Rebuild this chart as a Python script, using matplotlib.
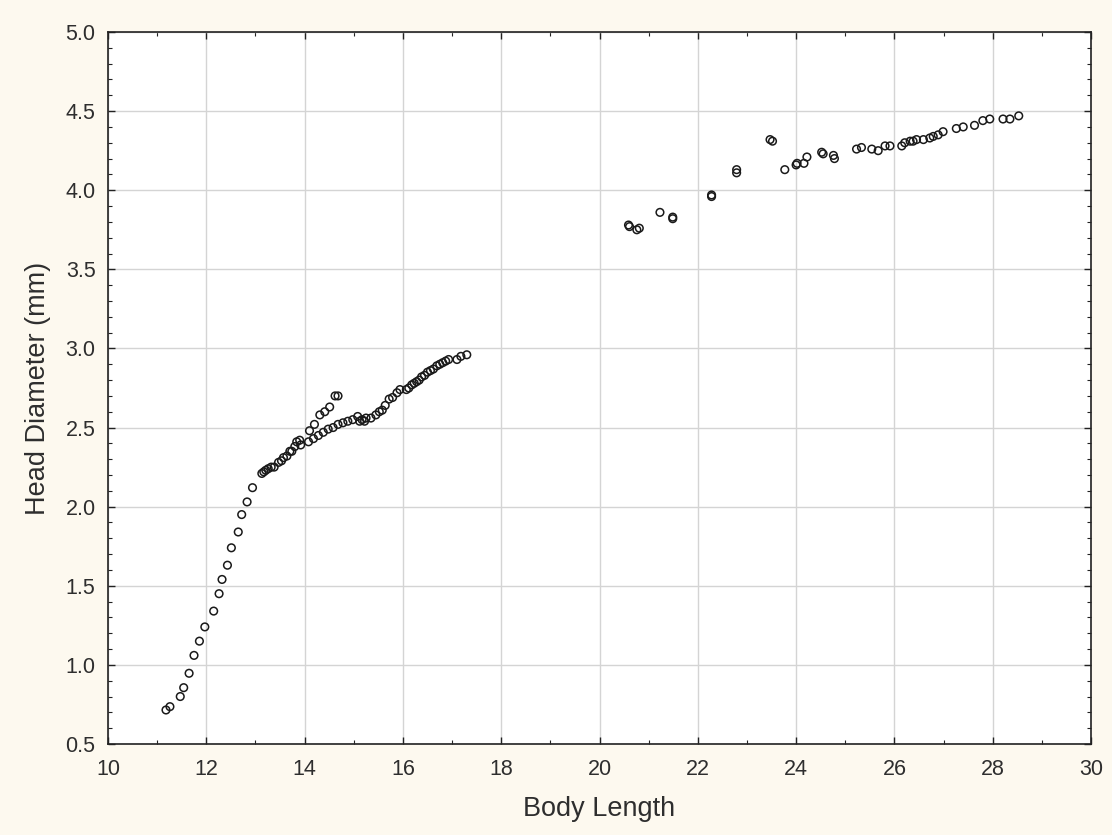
import numpy as np
import matplotlib
matplotlib.use('Agg')
import matplotlib.pyplot as plt
from matplotlib.ticker import MultipleLocator

# Body length vs head diameter
small_len = [11.18, 11.26, 11.47, 11.54, 11.65, 11.75, 11.86, 11.97, 12.15, 12.26,
             12.32, 12.43, 12.51, 12.65, 12.72, 12.83, 12.94,
             13.13, 13.17, 13.21, 13.26, 13.32, 13.38, 13.47, 13.53, 13.57, 13.64,
             13.70, 13.74, 13.80, 13.84, 13.90, 13.92,
             14.10, 14.20, 14.31, 14.41, 14.51, 14.62, 14.68,
             14.08, 14.18, 14.28, 14.38, 14.48, 14.58, 14.68, 14.78, 14.88, 14.98, 15.08,
             15.12, 15.17, 15.22, 15.25, 15.35, 15.45, 15.52, 15.58, 15.64, 15.72,
             15.79, 15.88, 15.94, 16.07, 16.12, 16.18, 16.23, 16.28, 16.33, 16.38,
             16.44, 16.50, 16.56, 16.62, 16.69, 16.75, 16.81, 16.87, 16.93, 17.10,
             17.18, 17.30]
small_head = [0.715, 0.736, 0.80, 0.856, 0.947, 1.06, 1.15, 1.24, 1.34, 1.45,
              1.54, 1.63, 1.74, 1.84, 1.95, 2.03, 2.12,
              2.21, 2.22, 2.23, 2.24, 2.25, 2.25, 2.28, 2.29, 2.31, 2.32,
              2.35, 2.35, 2.38, 2.41, 2.42, 2.39,
              2.48, 2.52, 2.58, 2.60, 2.63, 2.70, 2.70,
              2.41, 2.43, 2.45, 2.47, 2.49, 2.50, 2.52, 2.53, 2.54, 2.55, 2.57,
              2.54, 2.55, 2.54, 2.56, 2.56, 2.58, 2.60, 2.61, 2.64, 2.68,
              2.69, 2.72, 2.74, 2.74, 2.75, 2.77, 2.78, 2.79, 2.80, 2.82,
              2.83, 2.85, 2.86, 2.87, 2.89, 2.90, 2.91, 2.92, 2.93, 2.93,
              2.95, 2.96]

large_len = [20.59, 20.61, 20.76, 20.81, 21.23, 21.49, 21.49, 22.28, 22.28, 22.79,
             22.79, 23.47, 23.52, 23.77, 24.00, 24.02, 24.16, 24.22, 24.52, 24.55,
             24.76, 24.78, 25.23, 25.33, 25.54, 25.67, 25.81, 25.91, 26.15, 26.21,
             26.32, 26.38, 26.45, 26.59, 26.72, 26.79, 26.89, 26.99, 27.26, 27.40,
             27.63, 27.80, 27.94, 28.21, 28.35, 28.53]
large_head = [3.78, 3.77, 3.75, 3.76, 3.86, 3.83, 3.82, 3.97, 3.96, 4.13,
              4.11, 4.32, 4.31, 4.13, 4.16, 4.17, 4.17, 4.21, 4.24, 4.23,
              4.22, 4.20, 4.26, 4.27, 4.26, 4.25, 4.28, 4.28, 4.28, 4.30,
              4.31, 4.31, 4.32, 4.32, 4.33, 4.34, 4.35, 4.37, 4.39, 4.40,
              4.41, 4.44, 4.45, 4.45, 4.45, 4.47]

plt.rcParams['font.family'] = ['Liberation Sans', 'DejaVu Sans']
txt = '#2e2e2e'

fig = plt.figure(figsize=(11.12, 8.35), dpi=100, facecolor='#fdf9ef')
ax = fig.add_axes([108/1112, 1-744/835, (1091-108)/1112, (744-32)/835])
ax.set_facecolor('white')

x = np.array(small_len + large_len)
y = np.array(small_head + large_head)
ax.scatter(x, y, s=30, facecolors='none', edgecolors='#1a1a1a', linewidths=1.1, zorder=3)

ax.set_xlim(10, 30)
ax.set_ylim(0.5, 5.0)
ax.xaxis.set_major_locator(MultipleLocator(2))
ax.xaxis.set_minor_locator(MultipleLocator(1))
ax.yaxis.set_minor_locator(MultipleLocator(0.1))
ax.set_yticks(np.arange(0.5, 5.01, 0.5))
ax.set_yticklabels(['%.1f' % v for v in np.arange(0.5, 5.01, 0.5)])

ax.grid(True, which='major', color='#d4d4d4', lw=1.0, zorder=0)
ax.tick_params(which='both', direction='in', top=True, right=True, colors='#222222',
               labelcolor=txt, labelsize=15.5)
ax.tick_params(which='major', length=5, width=1)
ax.tick_params(which='minor', length=3, width=0.8)
ax.tick_params(axis='x', pad=11)
ax.tick_params(axis='y', pad=9)
for s in ax.spines.values():
    s.set_linewidth(1.2)
    s.set_color('#222222')

ax.set_xlabel('Body Length', fontsize=19.5, color=txt, labelpad=11)
ax.set_ylabel('Head Diameter (mm)', fontsize=19.5, color=txt, labelpad=10)

fig.savefig('out.png', dpi=100, facecolor=fig.get_facecolor())
